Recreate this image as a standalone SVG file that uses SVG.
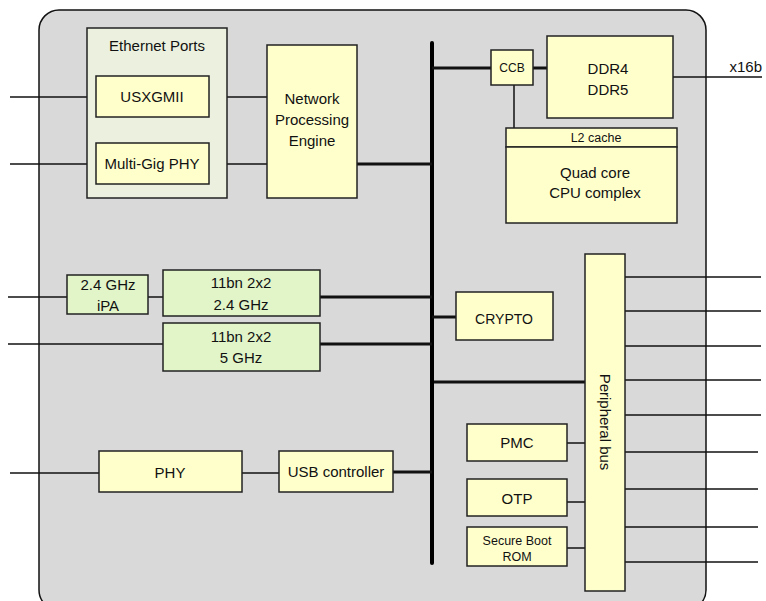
<svg xmlns="http://www.w3.org/2000/svg" width="766" height="601" viewBox="0 0 766 601">
<style>
text{font-family:"Liberation Sans",Arial,sans-serif;font-size:15px;fill:#111;text-anchor:middle}
.box{fill:#ffffcc;stroke:#222;stroke-width:1.5}
.grn{fill:#e1f5c9;stroke:#222;stroke-width:1.5}
.thin{stroke:#111;stroke-width:1.5;fill:none}
.thick{stroke:#111;stroke-width:3;fill:none}
.bus{stroke:#000;stroke-width:4;fill:none;stroke-linecap:round}
.sm{font-size:12.5px}
</style>
<rect id="chip" x="39" y="10" width="667" height="600" rx="20" ry="20" fill="#d9d9d9" stroke="#111" stroke-width="1.5"/>
<g id="connectors">
<line class="bus" x1="432" y1="43" x2="432" y2="563"/>
<line class="thin" x1="10" y1="97" x2="96" y2="97"/>
<line class="thin" x1="10" y1="164" x2="96" y2="164"/>
<line class="thin" x1="209" y1="97" x2="267" y2="97"/>
<line class="thin" x1="209" y1="164" x2="267" y2="164"/>
<line class="thick" x1="357" y1="164" x2="432" y2="164"/>
<line class="thick" x1="432" y1="68" x2="491" y2="68"/>
<line class="thick" x1="533" y1="68" x2="547" y2="68"/>
<line class="thin" x1="514" y1="85" x2="514" y2="128"/>
<line class="thin" x1="673" y1="77" x2="762" y2="77"/>
<line class="thin" x1="8" y1="297" x2="67" y2="297"/>
<line class="thin" x1="148" y1="297" x2="163" y2="297"/>
<line class="thick" x1="320" y1="297" x2="432" y2="297"/>
<line class="thin" x1="8" y1="344" x2="163" y2="344"/>
<line class="thick" x1="320" y1="344" x2="432" y2="344"/>
<line class="thick" x1="432" y1="317" x2="456" y2="317"/>
<line class="thick" x1="434" y1="382" x2="585" y2="382"/>
<line class="thin" x1="10" y1="473" x2="99" y2="473"/>
<line class="thin" x1="242" y1="473" x2="279" y2="473"/>
<line class="thick" x1="393" y1="472" x2="432" y2="472"/>
<line class="thin" x1="567" y1="443" x2="585" y2="443"/>
<line class="thin" x1="567" y1="502" x2="585" y2="502"/>
<line class="thin" x1="567" y1="548" x2="585" y2="548"/>
<g class="thin">
<line x1="625" y1="277" x2="761" y2="277"/>
<line x1="625" y1="311" x2="761" y2="311"/>
<line x1="625" y1="346" x2="761" y2="346"/>
<line x1="625" y1="380" x2="761" y2="380"/>
<line x1="625" y1="415" x2="761" y2="415"/>
<line x1="625" y1="452" x2="758" y2="452"/>
<line x1="625" y1="489" x2="758" y2="489"/>
<line x1="625" y1="527" x2="758" y2="527"/>
<line x1="625" y1="562" x2="758" y2="562"/>
</g>
</g>
<g id="ethernet-ports">
<rect x="87" y="28" width="140" height="170" fill="#ebf1de" stroke="#222" stroke-width="1.5"/>
<text x="157" y="51">Ethernet Ports</text>
</g>
<g id="usxgmii"><rect class="box" x="96" y="76" width="113" height="41"/><text x="152" y="102">USXGMII</text></g>
<g id="multigig"><rect class="box" x="96" y="143" width="113" height="41"/><text x="152" y="169">Multi-Gig PHY</text></g>
<g id="npe"><rect class="box" x="267" y="45" width="90" height="153"/><text x="312" y="104">Network</text><text x="312" y="125">Processing</text><text x="312" y="146">Engine</text></g>
<g id="ccb"><rect class="box" x="491" y="50" width="42" height="35"/><text x="512" y="72" style="font-size:12px">CCB</text></g>
<g id="ddr"><rect class="box" x="547" y="36" width="126" height="82"/><text x="608" y="74">DDR4</text><text x="608" y="95">DDR5</text></g>
<g id="x16b"><text x="762" y="72" style="text-anchor:end">x16b</text></g>
<g id="l2"><rect class="box" x="506" y="128" width="171" height="19"/><text x="596" y="142" style="font-size:12.5px">L2 cache</text></g>
<g id="cpu"><rect class="box" x="506" y="147" width="171" height="76"/><text x="595" y="178">Quad core</text><text x="595" y="198">CPU complex</text></g>
<g id="ipa"><rect class="grn" x="67" y="275" width="81" height="39"/><text x="108" y="290">2.4 GHz</text><text x="108" y="311">iPA</text></g>
<g id="wifi24"><rect class="grn" x="163" y="270" width="157" height="46"/><text x="241" y="288">11bn 2x2</text><text x="241" y="310">2.4 GHz</text></g>
<g id="wifi5"><rect class="grn" x="163" y="323" width="157" height="48"/><text x="241" y="342">11bn 2x2</text><text x="241" y="363">5 GHz</text></g>
<g id="crypto"><rect class="box" x="456" y="292" width="97" height="48"/><text x="504" y="324" style="font-size:14px">CRYPTO</text></g>
<g id="phy"><rect class="box" x="99" y="451" width="143" height="41"/><text x="170" y="478">PHY</text></g>
<g id="usb"><rect class="box" x="279" y="451" width="114" height="41"/><text x="336" y="477">USB controller</text></g>
<g id="peripheral-bus"><rect class="box" x="585" y="254" width="40" height="337"/><text transform="translate(605 422) rotate(90)" x="0" y="5">Peripheral bus</text></g>
<g id="pmc"><rect class="box" x="467" y="424" width="100" height="37"/><text x="517" y="448">PMC</text></g>
<g id="otp"><rect class="box" x="467" y="479" width="100" height="37"/><text x="517" y="504">OTP</text></g>
<g id="rom"><rect class="box" x="467" y="527" width="100" height="39"/><text class="sm" x="517" y="545">Secure Boot</text><text class="sm" x="517" y="561">ROM</text></g>
</svg>
